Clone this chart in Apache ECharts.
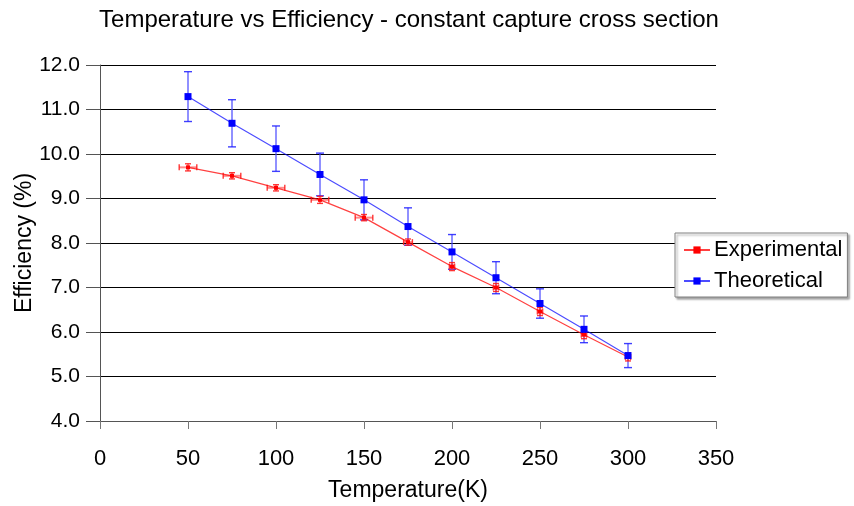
<!DOCTYPE html>
<html>
<head>
<meta charset="utf-8">
<script src="https://cdn.jsdelivr.net/npm/echarts@6/dist/echarts.min.js"></script>
<style>
  html, body { margin: 0; padding: 0; background: #fff; }
  #chart { width: 854px; height: 506px; }
</style>
</head>
<body>
<div id="chart"></div>
<script>
// Temperature (K) for each measurement
const temps = [50, 75, 100, 125, 150, 175, 200, 225, 250, 275, 300];
// Efficiency (%) values
const experimental = [9.70, 9.51, 9.24, 8.97, 8.57, 8.02, 7.47, 7.00, 6.46, 5.94, 5.44];
const theoretical = [11.29, 10.69, 10.12, 9.54, 8.97, 8.37, 7.80, 7.22, 6.64, 6.06, 5.47];
// Uncertainties
const expYErr = [0.08, 0.07, 0.07, 0.08, 0.07, 0.07, 0.09, 0.09, 0.09, 0.09, 0.09];
const expXErr = [5, 5, 5, 5, 5, 2.5, 1.5, 1.5, 1.5, 1.5, 1.5];
const theoYErr = [0.56, 0.53, 0.51, 0.48, 0.45, 0.42, 0.39, 0.36, 0.33, 0.30, 0.27];

const FONT = '"Liberation Sans", Arial, sans-serif';

function pairs(xs, ys) { return xs.map((x, i) => [x, ys[i]]); }

// Builds error-bar rows [x, y, dx, dy]
function errRows(xs, ys, dxs, dys) {
  return xs.map((x, i) => [x, ys[i], dxs ? dxs[i] : 0, dys ? dys[i] : 0]);
}

function errorBarRenderer(color, capColor, capPx) {
  return function (params, api) {
    const x = api.value(0), y = api.value(1), dx = api.value(2), dy = api.value(3);
    const children = [];
    const style = { stroke: color, lineWidth: 2, fill: null };
    const capStyle = { stroke: capColor, lineWidth: 1.4, fill: null };
    if (dy > 0) {
      const top = api.coord([x, y + dy]);
      const bot = api.coord([x, y - dy]);
      children.push({ type: 'line', shape: { x1: top[0], y1: top[1], x2: bot[0], y2: bot[1] }, style });
      children.push({ type: 'line', shape: { x1: top[0] - capPx, y1: top[1], x2: top[0] + capPx, y2: top[1] }, style: capStyle });
      children.push({ type: 'line', shape: { x1: bot[0] - capPx, y1: bot[1], x2: bot[0] + capPx, y2: bot[1] }, style: capStyle });
    }
    if (dx > 0) {
      const l = api.coord([x - dx, y]);
      const r = api.coord([x + dx, y]);
      children.push({ type: 'line', shape: { x1: l[0], y1: l[1], x2: r[0], y2: r[1] }, style });
      children.push({ type: 'line', shape: { x1: l[0], y1: l[1] - capPx, x2: l[0], y2: l[1] + capPx }, style: capStyle });
      children.push({ type: 'line', shape: { x1: r[0], y1: r[1] - capPx, x2: r[0], y2: r[1] + capPx }, style: capStyle });
    }
    return { type: 'group', children };
  };
}

const chart = echarts.init(document.getElementById('chart'), null, { renderer: 'canvas' });

chart.setOption({
  animation: false,
  backgroundColor: '#fff',
  textStyle: { fontFamily: FONT },
  title: {
    text: 'Temperature vs Efficiency - constant capture cross section',
    left: 404, top: 3, textAlign: 'center',
    textStyle: { fontFamily: FONT, fontSize: 24, fontWeight: 'normal', color: '#000' }
  },
  grid: { left: 100, right: 138, top: 65, bottom: 85, containLabel: false, outerBoundsMode: 'none' },
  legend: {
    orient: 'vertical',
    left: 675, top: 233,
    padding: [6, 5, 5, 8],
    itemGap: 9,
    itemWidth: 26, itemHeight: 9,
    backgroundColor: '#fff',
    borderColor: '#808080', borderWidth: 1,
    shadowColor: 'rgba(0,0,0,0.35)', shadowOffsetX: 2, shadowOffsetY: 2, shadowBlur: 2,
    textStyle: { fontFamily: FONT, fontSize: 22, color: '#000', padding: [0, 0, 0, -1] },
    data: ['Experimental', 'Theoretical']
  },
  xAxis: {
    type: 'value', min: 0, max: 350, interval: 50,
    name: 'Temperature(K)', nameLocation: 'middle', nameGap: 58, nameMoveOverlap: false,
    nameTextStyle: { fontFamily: FONT, fontSize: 23, color: '#000' },
    axisLine: { show: true, lineStyle: { color: '#555', width: 1 } },
    axisTick: { show: true, inside: false, length: 8, lineStyle: { color: '#777' } },
    axisLabel: { fontFamily: FONT, fontSize: 22, color: '#000', margin: 27 },
    splitLine: { show: false }
  },
  yAxis: {
    type: 'value', min: 4, max: 12, interval: 1,
    name: 'Efficiency (%)', nameLocation: 'middle', nameGap: 64, nameRotate: 90,
    nameMoveOverlap: false,
    nameTextStyle: { fontFamily: FONT, fontSize: 23, color: '#000' },
    axisLine: { show: true, onZero: false, lineStyle: { color: '#555', width: 1 } },
    axisTick: { show: true, inside: false, length: 14, lineStyle: { color: '#555' } },
    axisLabel: { fontFamily: FONT, fontSize: 21, color: '#000', margin: 20,
      formatter: v => v.toFixed(1) },
    splitLine: { show: true, lineStyle: { color: '#000', width: 1 } }
  },
  series: [
    {
      name: 'Theoretical-err', type: 'custom', z: 2,
      renderItem: errorBarRenderer('rgba(70,70,255,0.6)', 'rgba(30,30,255,0.85)', 4),
      data: errRows(temps, theoretical, null, theoYErr),
      encode: { x: 0, y: 1 }, silent: true
    },
    {
      name: 'Experimental-err', type: 'custom', z: 2,
      renderItem: errorBarRenderer('rgba(255,60,60,0.6)', 'rgba(255,20,20,0.85)', 3),
      data: errRows(temps, experimental, expXErr, expYErr),
      encode: { x: 0, y: 1 }, silent: true
    },
    {
      name: 'Experimental', type: 'line', z: 3,
      data: pairs(temps, experimental),
      symbol: 'rect', symbolSize: 4,
      lineStyle: { color: 'rgba(255,0,0,0.75)', width: 1.2 },
      itemStyle: { color: '#ff0000' }
    },
    {
      name: 'Theoretical', type: 'line', z: 4,
      data: pairs(temps, theoretical),
      symbol: 'rect', symbolSize: 7,
      lineStyle: { color: 'rgba(0,0,255,0.7)', width: 1.2 },
      itemStyle: { color: '#0000ff' }
    }
  ]
});
</script>
</body>
</html>
